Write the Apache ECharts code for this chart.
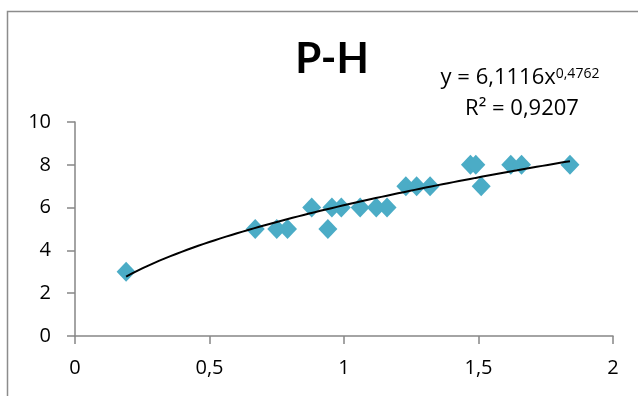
<!DOCTYPE html>
<html>
<head>
<meta charset="utf-8">
<script src="https://cdn.jsdelivr.net/npm/echarts@6/dist/echarts.min.js"></script>
<style>
  html, body { margin: 0; padding: 0; background: #fff; }
  #chart { width: 638px; height: 396px; }
</style>
</head>
<body>
<div id="chart"></div>
<script>
// Measured samples: P on the x axis, H on the y axis
const pValues = [0.19, 0.67, 0.75, 0.79, 0.88, 0.94, 0.955, 0.99, 1.06, 1.12, 1.16, 1.23, 1.27, 1.32, 1.47, 1.49, 1.51, 1.62, 1.66, 1.84];
const hValues = [3, 5, 5, 5, 6, 5, 6, 6, 6, 6, 6, 7, 7, 7, 8, 8, 7, 8, 8, 8];

// Power trendline y = a * x^b and its fit quality
const trendCoef = 6.1116;
const trendExp = 0.4762;
const trendR2 = '0,9207';

// Axis ticks
const xTicks = [0, 0.5, 1, 1.5, 2];
const yTicks = [0, 2, 4, 6, 8, 10];

const points = pValues.map((p, i) => [p, hValues[i]]);

// Trendline drawn across the range of the samples
const pMin = Math.min(...pValues);
const pMax = Math.max(...pValues);
const trend = [];
const steps = 80;
for (let i = 0; i <= steps; i++) {
  const x = pMin + (pMax - pMin) * i / steps;
  trend.push([x, trendCoef * Math.pow(x, trendExp)]);
}

const decimal = v => String(v).replace('.', ',');
const titleFont = 'Lato, "Open Sans", sans-serif';
const font = '"Open Sans", Lato, sans-serif';
const axisGrey = '#868686';

const eqMain = { fontFamily: font, fontSize: 22, color: '#000', verticalAlign: 'top', lineHeight: 26 };
const eqSup = { fontFamily: font, fontSize: 14, color: '#000', verticalAlign: 'top', lineHeight: 14 };

const chart = echarts.init(document.getElementById('chart'), null, { renderer: 'canvas' });
chart.setOption({
  animation: false,
  backgroundColor: '#fff',
  title: {
    text: 'P-H',
    left: 327,
    top: 33,
    textAlign: 'center',
    textStyle: { fontFamily: titleFont, fontWeight: 'bold', fontSize: 42, color: '#000' }
  },
  grid: { left: 75, right: 25, top: 122, bottom: 60, containLabel: false },
  xAxis: {
    type: 'value',
    min: xTicks[0],
    max: xTicks[xTicks.length - 1],
    interval: xTicks[1] - xTicks[0],
    splitLine: { show: false },
    axisLine: { show: true, lineStyle: { color: axisGrey, width: 1.5 } },
    axisTick: { show: true, length: 8, lineStyle: { color: axisGrey, width: 1.5 } },
    axisLabel: { margin: 22, color: '#000', fontFamily: font, fontSize: 20, formatter: decimal }
  },
  yAxis: {
    type: 'value',
    min: yTicks[0],
    max: yTicks[yTicks.length - 1],
    interval: yTicks[1] - yTicks[0],
    splitLine: { show: false },
    axisLine: { show: true, lineStyle: { color: axisGrey, width: 1.5 } },
    axisTick: { show: true, length: 8, lineStyle: { color: axisGrey, width: 1.5 } },
    axisLabel: { margin: 24, color: '#000', fontFamily: font, fontSize: 20, formatter: decimal }
  },
  graphic: [
    {
      type: 'rect',
      left: 5, top: 9,
      shape: { width: 800, height: 600 },
      style: { fill: 'none', stroke: '#8c8c8c', lineWidth: 1.5 },
      silent: true, z: -10
    },
    {
      type: 'text',
      x: 520, y: 67,
      style: {
        text: '{m|y = ' + decimal(trendCoef) + 'x}{s|' + decimal(trendExp) + '}',
        textAlign: 'center',
        rich: { m: eqMain, s: eqSup }
      }
    },
    {
      type: 'text',
      x: 522, y: 96,
      style: {
        text: 'R² = ' + trendR2,
        textAlign: 'center',
        fontFamily: font, fontSize: 22, fill: '#000',
        lineHeight: 26
      }
    }
  ],
  series: [
    {
      type: 'scatter',
      data: points,
      symbol: 'diamond',
      symbolSize: [19, 20],
      itemStyle: { color: '#4BACC6', opacity: 1 },
      z: 2
    },
    {
      type: 'line',
      data: trend,
      showSymbol: false,
      symbol: 'none',
      smooth: false,
      lineStyle: { color: '#000', width: 2 },
      z: 3
    }
  ]
});
</script>
</body>
</html>
